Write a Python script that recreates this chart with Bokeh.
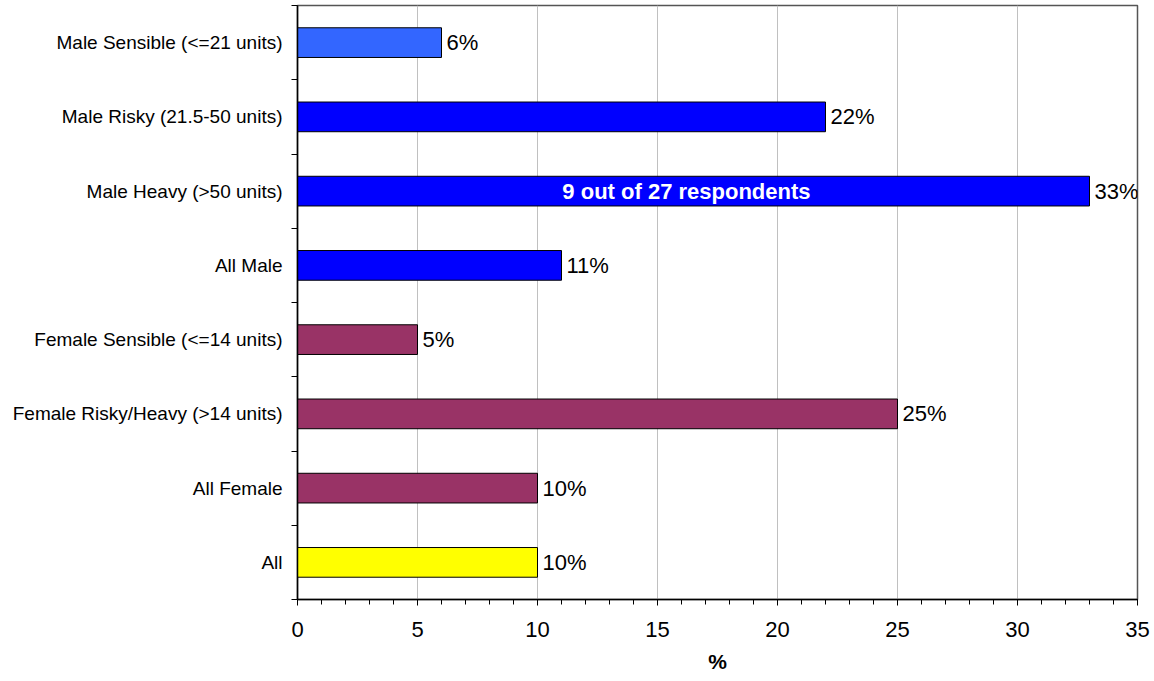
from bokeh.plotting import figure
from bokeh.models import ColumnDataSource, FixedTicker, LabelSet, Label, Range1d
from bokeh.core.properties import value
from bokeh.embed import file_html
from bokeh.resources import INLINE

# ---- data (top to bottom) ----
categories = [
    "Male Sensible (<=21 units)",
    "Male Risky (21.5-50 units)",
    "Male Heavy (>50 units)",
    "All Male",
    "Female Sensible (<=14 units)",
    "Female Risky/Heavy (>14 units)",
    "All Female",
    "All",
]
values = [6, 22, 33, 11, 5, 25, 10, 10]
colors = ["#3366FF", "#0000FF", "#0000FF", "#0000FF",
          "#993366", "#993366", "#993366", "#FFFF00"]
x_ticks = [0, 5, 10, 15, 20, 25, 30, 35]
x_title = "%"
note_text = "9  out of 27 respondents"
note_category = "Male Heavy (>50 units)"

n = len(categories)
ypos = [n - i - 0.5 for i in range(n)]
labels = [f"{v}%" for v in values]

src = ColumnDataSource(dict(y=ypos, v=values, c=colors, lab=labels, cat=categories))

FONT = "Liberation Sans"

p = figure(width=1154, height=681, output_backend="svg", toolbar_location=None,
           x_range=Range1d(0, 35), y_range=Range1d(0, n),
           min_border_left=297, min_border_right=17, min_border_top=5, min_border_bottom=82)
p.background_fill_color = "white"
p.border_fill_color = "white"
p.outline_line_color = "#555555"
p.outline_line_width = 1.5

p.hbar(y="y", right="v", left=0, height=0.4, fill_color="c", line_color="black",
       line_width=1, source=src)

# x axis
xa = p.xaxis[0]
xa.ticker = FixedTicker(ticks=x_ticks, minor_ticks=list(range(0, 36)))
xa.axis_line_color = "black"
xa.axis_line_width = 1.5
xa.major_tick_in = 0
xa.major_tick_out = 6
xa.minor_tick_in = 0
xa.minor_tick_out = 5
xa.major_tick_line_color = "black"
xa.minor_tick_line_color = "black"
xa.major_label_text_font = FONT
xa.major_label_text_font_size = "22px"
xa.major_label_text_color = "black"
xa.major_label_standoff = 16
xa.axis_label = x_title
xa.axis_label_text_font = FONT
xa.axis_label_text_font_size = "21px"
xa.axis_label_text_font_style = "bold"
xa.axis_label_text_color = "black"
xa.axis_label_standoff = 10

# y axis
ya = p.yaxis[0]
ya.ticker = FixedTicker(ticks=ypos, minor_ticks=list(range(0, n + 1)))
ya.major_label_overrides = {y: c for y, c in zip(ypos, categories)}
ya.axis_line_color = "black"
ya.axis_line_width = 1.5
ya.major_tick_in = 0
ya.major_tick_out = 0
ya.minor_tick_in = 0
ya.minor_tick_out = 6
ya.minor_tick_line_color = "black"
ya.major_label_text_font = FONT
ya.major_label_text_font_size = "19px"
ya.major_label_text_color = "black"
ya.major_label_standoff = 9

p.xgrid.ticker = FixedTicker(ticks=x_ticks[1:])
p.xgrid.grid_line_color = "#c0c0c0"
p.xgrid.grid_line_width = 1
p.ygrid.grid_line_color = None

lbl = LabelSet(x="v", y="y", text="lab", source=src, x_offset=5,
               text_font=value(FONT), text_font_size=value("22px"), text_color="black",
               text_baseline="middle", text_align="left")
p.add_layout(lbl)

idx = categories.index(note_category)
note = Label(x=values[idx] / 2, y=ypos[idx], text=note_text, text_font=FONT,
             text_font_size="22px", text_font_style="bold", text_color="white",
             text_align="center", text_baseline="middle", x_offset=-4)
p.add_layout(note)

open("out.html", "w").write(file_html(p, INLINE))
